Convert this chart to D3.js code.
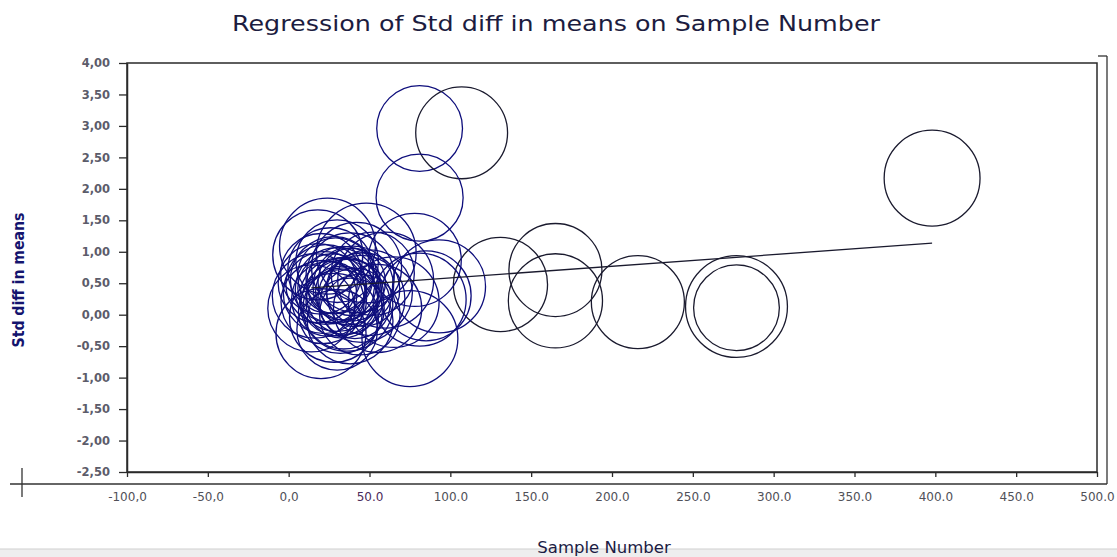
<!DOCTYPE html>
<html>
<head>
<meta charset="utf-8">
<script src="https://cdn.jsdelivr.net/npm/d3@7"></script>
<style>
  html, body { margin: 0; padding: 0; background: #fff; overflow: hidden; }
</style>
</head>
<body>
<div id="app"></div>
<script>
// studies: sample number, std diff in means, relative weight (bubble size)
const sampleNumber = [
  81, 107, 81, 398, 165, 165, 131, 216, 277, 277,
  24, 18, 48, 78, 81, 75, 30, 14, 20, 60, 93, 85,
  30, 35, 28, 40, 22, 33, 38, 26, 45, 18, 32, 50,
  42, 36, 25, 55, 20, 30, 44, 38, 52, 28, 65, 16, 34,
  27, 31, 37, 23, 41, 29, 34, 46, 21, 39,
];
const stdDiff = [
  2.96, 2.89, 1.86, 2.17, 0.71, 0.22, 0.48, 0.2, 0.13, 0.11,
  1.09, 0.95, 0.98, 0.87, 0.24, -0.38, -0.24, 0.1, -0.3, 0.55, 0.45, 0.3,
  0.4, 0.3, 0.55, 0.45, 0.35, 0.2, 0.6, 0.7, 0.25, 0.5, 0.05, 0.35,
  0.75, 0.15, 0.25, 0.1, 0.65, 0.85, 0.0, -0.1, 0.65, -0.05, 0.2, 0.3, 0.5,
  0.42, 0.28, 0.36, 0.48, 0.18, 0.62, 0.1, 0.4, 0.2, 0.52,
];
const weights = [
  6.8, 7.8, 7.0, 8.5, 8.0, 8.2, 8.2, 8.0, 9.6, 6.8,
  8.5, 7.5, 9.2, 8.0, 8.0, 8.5, 6.0, 7.0, 7.5, 8.5, 8.0, 7.5,
  6.5, 5.5, 7.0, 6.0, 6.2, 4.8, 7.2, 6.8, 7.0, 5.8, 6.5, 6.8,
  7.5, 7.8, 5.2, 7.2, 6.0, 6.3, 6.0, 6.8, 6.4, 7.3, 7.6, 6.6, 5.0,
  4.4, 5.6, 4.0, 5.9, 4.6, 5.3, 6.1, 5.0, 6.4, 4.2,
];

// fitted regression line
const regIntercept = 0.40;
const regSlope = 0.00185;

const xTickValues = [-100, -50, 0, 50, 100, 150, 200, 250, 300, 350, 400, 450, 500];
const xTickLabels = ['-100,0', '-50,0', '0,0', '50.0', '100.0', '150.0', '200.0',
  '250.0', '300.0', '350.0', '400.0', '450.0', '500.0'];
const yTickValues = [4, 3.5, 3, 2.5, 2, 1.5, 1, 0.5, 0, -0.5, -1, -1.5, -2, -2.5];
const yTickLabels = ['4,00', '3,50', '3,00', '2,50', '2,00', '1,50', '1,00', '0,50',
  '0,00', '-0,50', '-1,00', '-1,50', '-2,00', '-2,50'];

const titleText = 'Regression of Std diff in means on Sample Number';
const xTitle = 'Sample Number';
const yTitle = 'Std diff in means';

const width = 1117;
const height = 557;
const plot = { left: 127, right: 1097, top: 63, bottom: 472 };
const font = "'DejaVu Sans', Verdana, sans-serif";

const svg = d3
  .select('#app')
  .append('svg')
  .attr('width', width)
  .attr('height', height)
  .style('display', 'block');

const x = d3.scaleLinear().domain([-100, 500]).range([plot.left, plot.right]);
const y = d3.scaleLinear().domain([-2.5, 4]).range([plot.bottom, plot.top]);
const r = d3.scaleSqrt().domain([0, 10]).range([0, 52]);

// title
svg
  .append('text')
  .attr('x', 556)
  .attr('y', 31)
  .attr('text-anchor', 'middle')
  .attr('font-family', font)
  .attr('font-size', 22)
  .attr('fill', '#1c1c40')
  .attr('textLength', 648)
  .attr('lengthAdjust', 'spacingAndGlyphs')
  .text(titleText);

// outer frame pieces
const outer = svg.append('g').attr('stroke', '#333').attr('stroke-width', 1.3).attr('fill', 'none');
outer.append('line').attr('x1', 10).attr('x2', 1107).attr('y1', 484).attr('y2', 484);
outer.append('line').attr('x1', 22).attr('x2', 22).attr('y1', 468).attr('y2', 497);
outer.append('line').attr('x1', 1107).attr('x2', 1107).attr('y1', 56).attr('y2', 484);
outer.append('line').attr('x1', 1098).attr('x2', 1107).attr('y1', 56).attr('y2', 56);

// plot frame
svg
  .append('rect')
  .attr('x', plot.left)
  .attr('y', plot.top)
  .attr('width', plot.right - plot.left)
  .attr('height', plot.bottom - plot.top)
  .attr('fill', '#fff')
  .attr('stroke', '#2a2a2a')
  .attr('stroke-width', 1.5);

// axes
const xAxis = svg
  .append('g')
  .attr('transform', `translate(0,${plot.bottom})`)
  .call(
    d3
      .axisBottom(x)
      .tickValues(xTickValues)
      .tickFormat((d, i) => xTickLabels[i])
      .tickSize(5)
      .tickSizeOuter(0)
      .tickPadding(15),
  );
xAxis.select('.domain').attr('stroke', '#2a2a2a').attr('stroke-width', 1.5);
xAxis.selectAll('.tick line').attr('stroke', '#2a2a2a').attr('stroke-width', 1.3);
xAxis
  .selectAll('.tick text')
  .attr('font-family', font)
  .attr('font-size', 12)
  .attr('fill', (d) => (d === 50 ? '#4a2a5a' : '#505058'));

const yAxis = svg
  .append('g')
  .attr('transform', `translate(${plot.left},0)`)
  .call(
    d3
      .axisLeft(y)
      .tickValues(yTickValues)
      .tickFormat((d, i) => yTickLabels[i])
      .tickSize(8)
      .tickSizeOuter(0)
      .tickPadding(9),
  );
yAxis.select('.domain').attr('stroke', '#2a2a2a').attr('stroke-width', 1.5);
yAxis.selectAll('.tick line').attr('stroke', '#2a2a2a').attr('stroke-width', 1.3);
yAxis
  .selectAll('.tick text')
  .attr('font-family', font)
  .attr('font-weight', 'bold')
  .attr('font-size', 11.5)
  .attr('fill', '#5c5c6a');

// bubbles
const studies = sampleNumber.map((d, i) => ({ x: d, y: stdDiff[i], w: weights[i] }));

svg
  .append('g')
  .selectAll('circle')
  .data(studies)
  .enter()
  .append('circle')
  .attr('cx', (d) => x(d.x))
  .attr('cy', (d) => y(d.y))
  .attr('r', (d) => r(d.w))
  .attr('fill', 'none')
  .attr('stroke', (d) => (d.x < 100 ? '#0e0e7c' : '#1a1a2e'))
  .attr('stroke-width', 1.3);

// regression line over the observed range
const xExt = d3.extent(sampleNumber);
svg
  .append('line')
  .attr('x1', x(xExt[0]))
  .attr('y1', y(regIntercept + regSlope * xExt[0]))
  .attr('x2', x(xExt[1]))
  .attr('y2', y(regIntercept + regSlope * xExt[1]))
  .attr('stroke', '#1a1a2e')
  .attr('stroke-width', 1.3);

// y axis title, heavy and squeezed
svg
  .append('text')
  .attr('transform', 'translate(24,280) rotate(-90)')
  .attr('text-anchor', 'middle')
  .attr('font-family', font)
  .attr('font-weight', 'bold')
  .attr('font-size', 16)
  .attr('fill', '#14146e')
  .attr('textLength', 135)
  .attr('lengthAdjust', 'spacingAndGlyphs')
  .text(yTitle);

// window strip at bottom
svg
  .append('rect')
  .attr('x', 0)
  .attr('y', 549)
  .attr('width', width)
  .attr('height', height - 549)
  .attr('fill', '#eeeeee');
svg
  .append('line')
  .attr('x1', 0)
  .attr('x2', width)
  .attr('y1', 549)
  .attr('y2', 549)
  .attr('stroke', '#cfcfcf');

svg
  .append('text')
  .attr('x', 604)
  .attr('y', 553)
  .attr('text-anchor', 'middle')
  .attr('font-family', font)
  .attr('font-size', 16.5)
  .attr('fill', '#1c1c44')
  .text(xTitle);
</script>
</body>
</html>
